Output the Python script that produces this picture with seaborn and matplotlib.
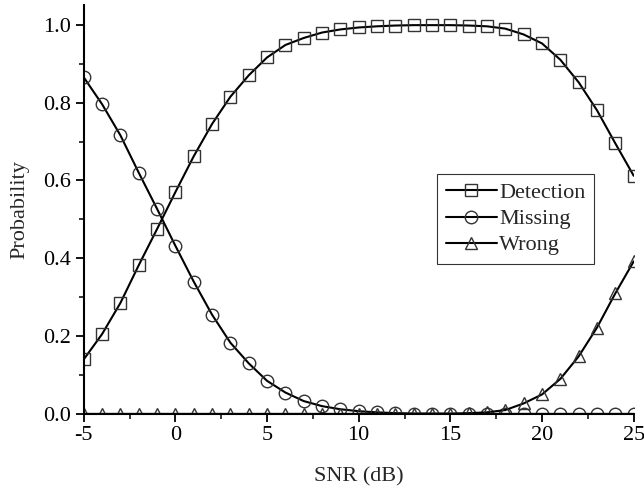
import matplotlib
matplotlib.use("Agg")
import matplotlib.pyplot as plt
import seaborn as sns
from matplotlib.ticker import MultipleLocator, FormatStrFormatter

snr = list(range(-5, 26))
detection = [0.140, 0.205, 0.285, 0.382, 0.475, 0.570, 0.662, 0.745, 0.815, 0.870, 0.916,
             0.948, 0.966, 0.980, 0.988, 0.993, 0.996, 0.998, 0.999, 0.999, 0.999, 0.998,
             0.996, 0.990, 0.975, 0.952, 0.910, 0.852, 0.780, 0.695, 0.612]
missing = [0.865, 0.796, 0.716, 0.620, 0.527, 0.432, 0.340, 0.255, 0.183, 0.130, 0.085,
           0.055, 0.033, 0.020, 0.012, 0.007, 0.004, 0.002, 0.001, 0.001, 0.0005, 0.0,
           0.0, 0.0, 0.0, 0.0, 0.0, 0.0, 0.0, 0.0, 0.0]
wrong = [0.0, 0.0, 0.0, 0.0, 0.0, 0.0, 0.0, 0.0, 0.0, 0.0, 0.0,
         0.0, 0.0, 0.0, 0.0, 0.0, 0.0, 0.0, 0.0, 0.0, 0.0005, 0.002,
         0.004, 0.010, 0.027, 0.050, 0.090, 0.148, 0.222, 0.310, 0.392]
series = [("Detection", detection, "s", 9), ("Missing", missing, "o", 9), ("Wrong", wrong, "^", 9)]

sns.set_style("ticks")
plt.rcParams['font.family'] = ['Liberation Serif', 'DejaVu Serif']
plt.rcParams['axes.unicode_minus'] = False

fig = plt.figure(figsize=(6.44, 4.91), dpi=100)
ax = fig.add_axes([0.130, 0.157, 0.854, 0.833])

for name, vals, m, ms in series:
    sns.lineplot(x=snr, y=vals, ax=ax, color="black", linewidth=1.5, label=name,
                 marker=m, markersize=ms, markerfacecolor="none",
                 markeredgecolor="#333333", markeredgewidth=1.0, clip_on=True)

ax.set_xlim(-5, 25)
ax.set_ylim(0, 1.051)
ax.xaxis.set_major_locator(MultipleLocator(5))
ax.xaxis.set_minor_locator(MultipleLocator(2.5))
ax.yaxis.set_major_locator(MultipleLocator(0.2))
ax.yaxis.set_minor_locator(MultipleLocator(0.1))
ax.yaxis.set_major_formatter(FormatStrFormatter('%.1f'))

ax.tick_params(axis='both', which='major', direction='out', length=6, width=1.3,
               labelsize=16, colors='black', pad=3)
ax.tick_params(axis='both', which='minor', direction='out', length=3.5, width=1.3)
for s in ['top', 'right']:
    ax.spines[s].set_visible(False)
for s in ['left', 'bottom']:
    ax.spines[s].set_linewidth(1.5)
    ax.spines[s].set_color('black')

ax.set_xlabel("SNR (dB)", fontsize=16, labelpad=16)
ax.set_ylabel("Probability", fontsize=16, labelpad=10)

leg = ax.legend(loc='upper left', bbox_to_anchor=(0.642, 0.587), borderaxespad=0,
                fontsize=16, frameon=True, fancybox=False, edgecolor='black',
                handlelength=2.3, handletextpad=0.1, labelspacing=0.25, borderpad=0.4)
leg.get_frame().set_linewidth(0.8)

fig.savefig("out.png", dpi=100)
